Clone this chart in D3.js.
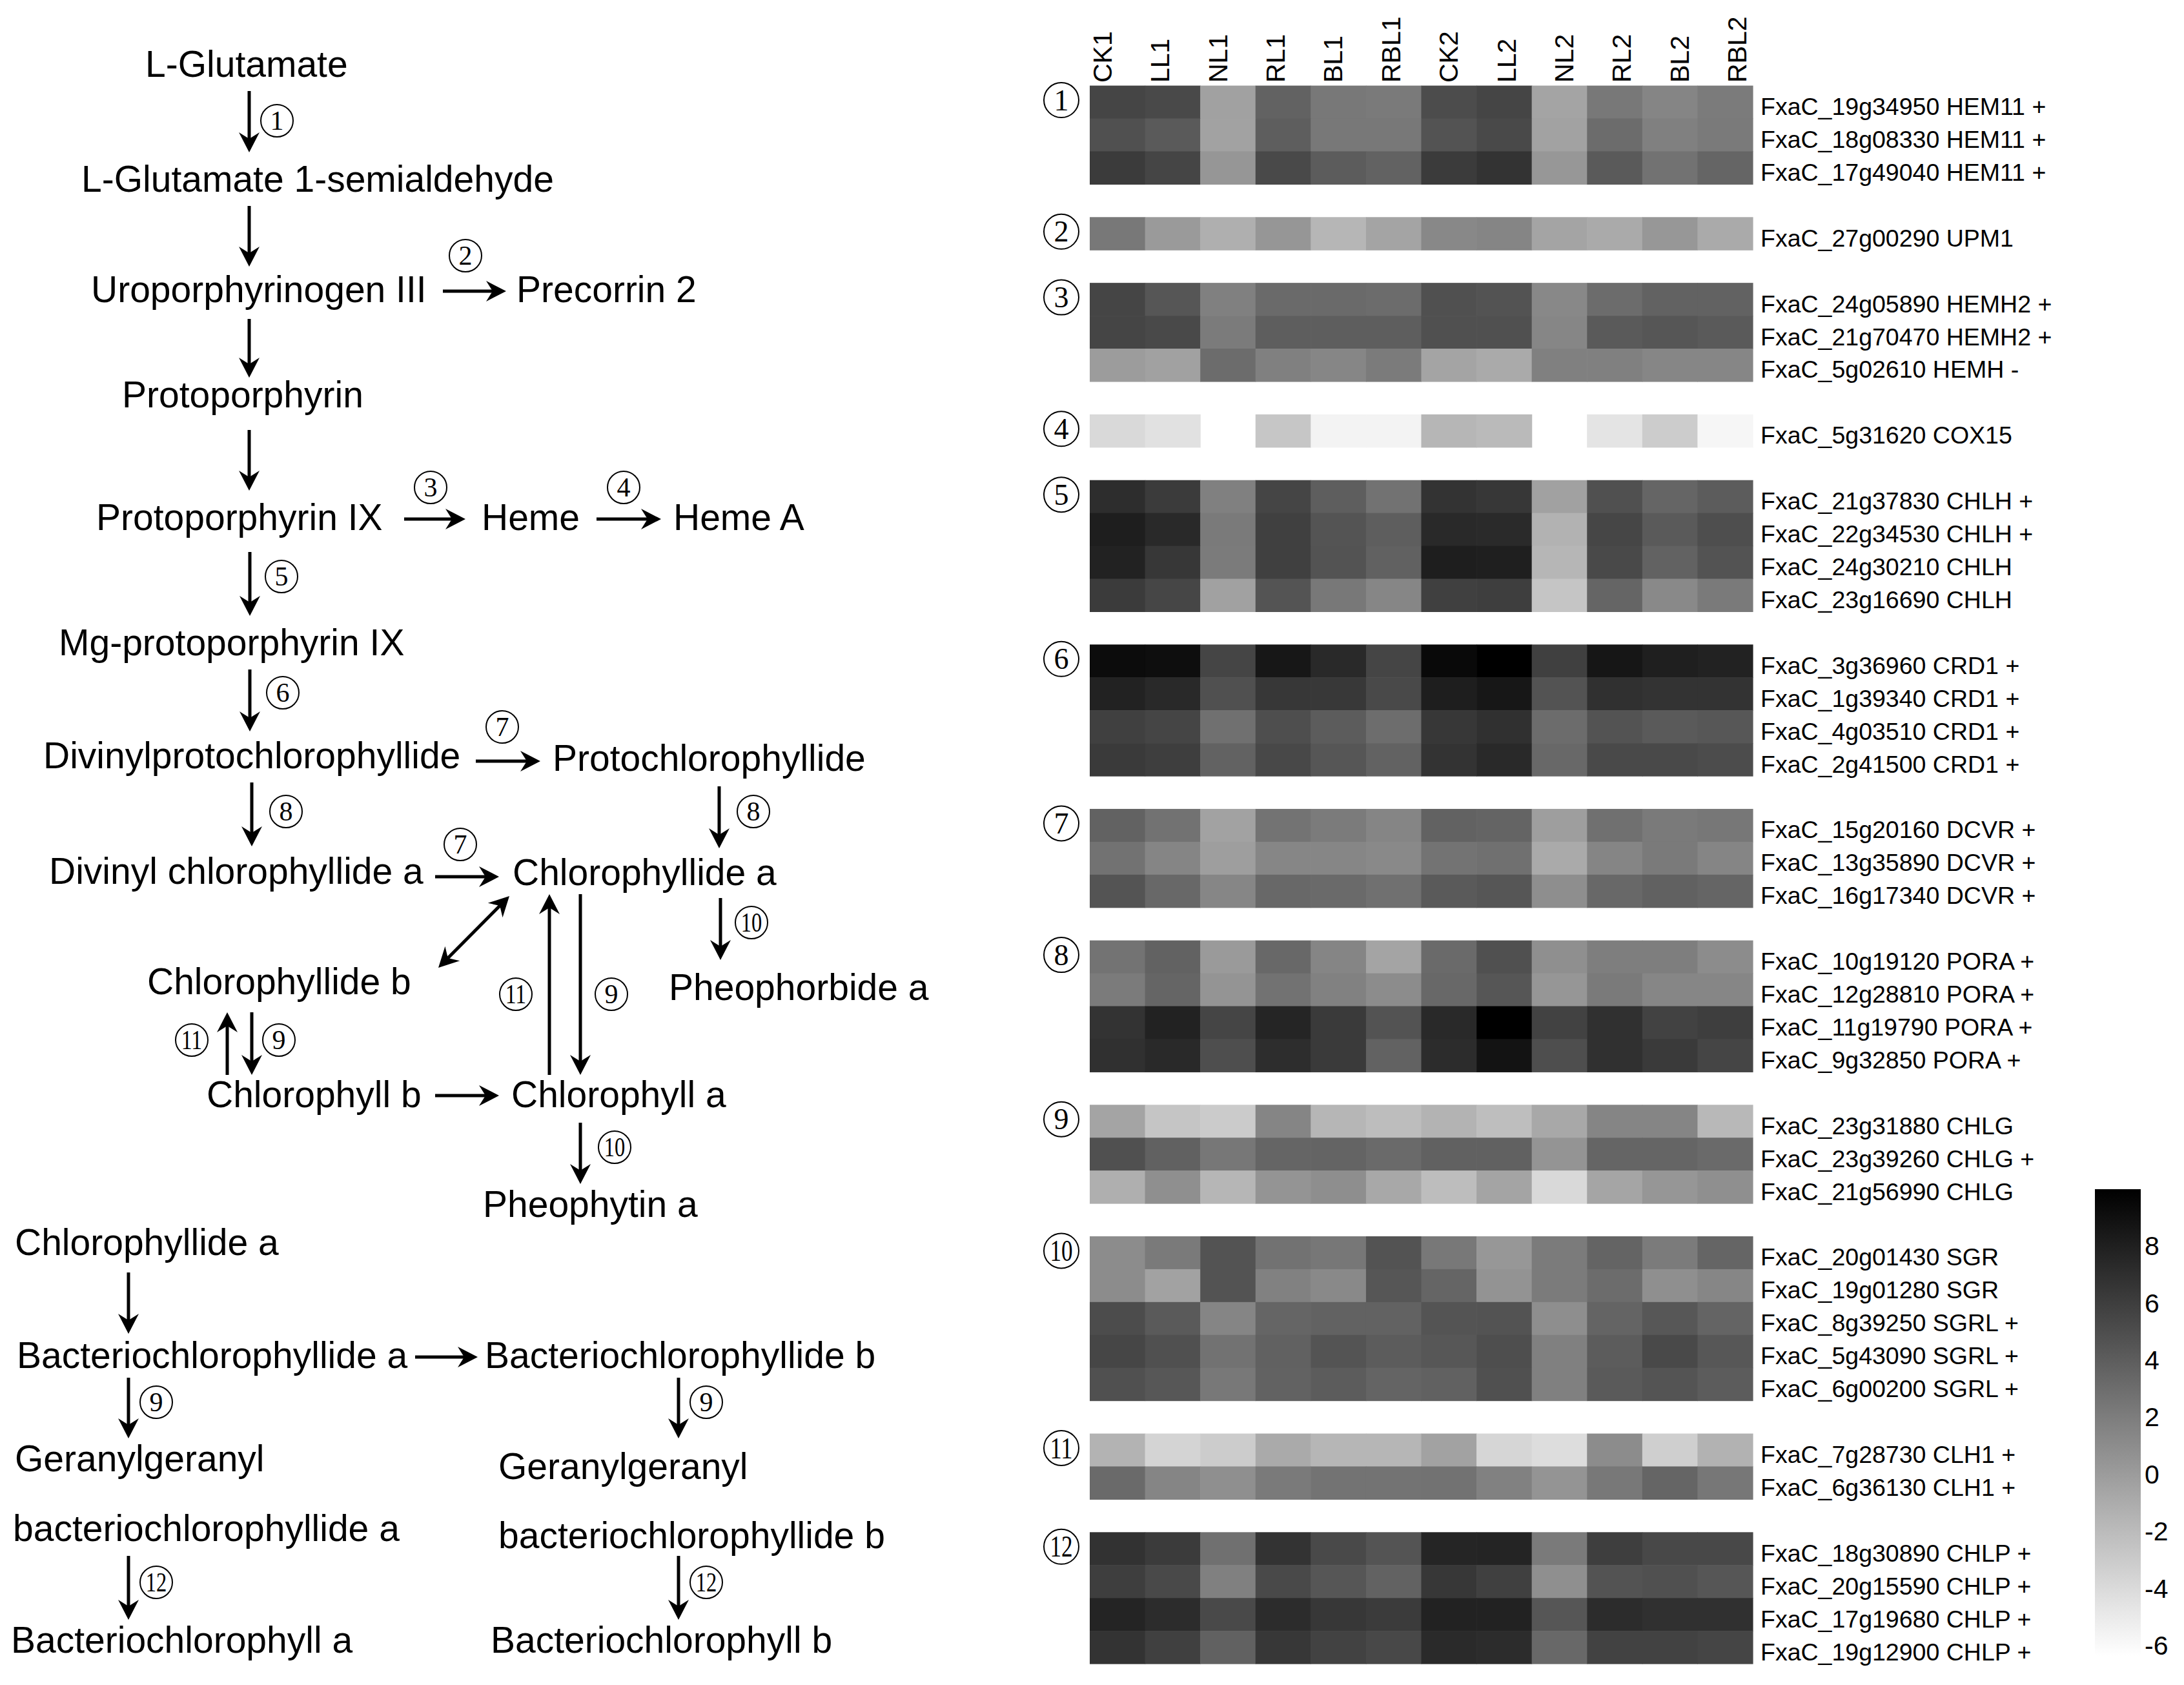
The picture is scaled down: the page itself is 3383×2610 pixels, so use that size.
<!DOCTYPE html>
<meta charset="utf-8">
<script src="https://d3js.org/d3.v7.min.js"></script>
<style>
  body { margin: 0; background: #fff; }
</style>
<div id="chart"></div>
<script>
// ---- heatmap data ----
const columns = ["CK1", "LL1", "NL1", "RL1", "BL1", "RBL1", "CK2", "LL2", "NL2", "RL2", "BL2", "RBL2"];

// gene labels per enzymatic step (1..12)
const stepGenes = [
  ["FxaC_19g34950 HEM11 +", "FxaC_18g08330 HEM11 +", "FxaC_17g49040 HEM11 +"],
  ["FxaC_27g00290 UPM1"],
  ["FxaC_24g05890 HEMH2 +", "FxaC_21g70470 HEMH2 +", "FxaC_5g02610 HEMH -"],
  ["FxaC_5g31620 COX15"],
  ["FxaC_21g37830 CHLH +", "FxaC_22g34530 CHLH +", "FxaC_24g30210 CHLH", "FxaC_23g16690 CHLH"],
  ["FxaC_3g36960 CRD1 +", "FxaC_1g39340 CRD1 +", "FxaC_4g03510 CRD1 +", "FxaC_2g41500 CRD1 +"],
  ["FxaC_15g20160 DCVR +", "FxaC_13g35890 DCVR +", "FxaC_16g17340 DCVR +"],
  ["FxaC_10g19120 PORA +", "FxaC_12g28810 PORA +", "FxaC_11g19790 PORA +", "FxaC_9g32850 PORA +"],
  ["FxaC_23g31880 CHLG", "FxaC_23g39260 CHLG +", "FxaC_21g56990 CHLG"],
  ["FxaC_20g01430 SGR", "FxaC_19g01280 SGR", "FxaC_8g39250 SGRL +", "FxaC_5g43090 SGRL +", "FxaC_6g00200 SGRL +"],
  ["FxaC_7g28730 CLH1 +", "FxaC_6g36130 CLH1 +"],
  ["FxaC_18g30890 CHLP +", "FxaC_20g15590 CHLP +", "FxaC_17g19680 CHLP +", "FxaC_19g12900 CHLP +"]
];

// expression values (null = no value), same order as columns
const stepValues = [
  [[5.6, 5.3, -0.3, 3.7, 2.3, 2.2, 5.1, 5.6, -0.5, 2.3, 1.5, 2.1],
   [4.9, 4.2, -0.4, 4.0, 2.3, 2.3, 4.7, 5.3, -0.4, 3.1, 1.8, 2.2],
   [6.2, 5.6, 0.4, 5.3, 4.1, 3.7, 6.2, 6.7, 0.3, 4.2, 2.7, 3.5]],
  [[2.3, 0.1, -1.2, 0.4, -1.7, -0.5, 1.3, 1.5, -0.5, -0.9, 0.3, -0.9]],
  [[5.6, 4.5, 1.8, 3.2, 3.2, 3.1, 4.9, 4.7, 1.3, 3.1, 3.7, 3.7],
   [5.6, 5.3, 2.1, 4.0, 4.0, 4.0, 4.9, 4.9, 1.4, 4.2, 4.5, 4.2],
   [0.0, -0.3, 3.1, 1.8, 1.4, 2.1, -0.5, -0.9, 1.8, 1.8, 1.4, 1.4]],
  [[-3.9, -4.4, null, -2.7, -5.6, -5.6, -1.7, -1.9, null, -4.6, -3.1, -5.8]],
  [[7.1, 6.2, 1.8, 5.6, 4.0, 2.7, 6.7, 6.5, -0.3, 4.9, 3.5, 4.1],
   [8.1, 7.4, 2.2, 5.9, 4.6, 4.0, 7.4, 7.3, -1.4, 5.5, 4.2, 5.0],
   [7.8, 6.5, 2.1, 5.9, 4.7, 3.8, 8.1, 8.0, -1.7, 5.3, 3.7, 4.7],
   [6.2, 5.5, -0.3, 4.6, 2.3, 1.4, 5.9, 6.0, -2.6, 3.5, 1.2, 2.2]],
  [[9.2, 9.1, 5.6, 8.5, 7.4, 5.6, 9.4, 10.0, 5.9, 8.6, 8.0, 7.8],
   [7.8, 7.4, 4.9, 6.5, 6.4, 5.3, 8.1, 8.5, 4.7, 6.9, 6.7, 6.7],
   [5.9, 5.6, 2.8, 5.0, 4.1, 3.0, 6.5, 6.9, 3.1, 4.7, 4.2, 4.4],
   [6.3, 6.0, 3.7, 5.4, 4.5, 3.7, 6.7, 7.4, 3.3, 5.3, 5.3, 5.1]],
  [[3.7, 2.7, -0.4, 2.6, 2.1, 1.5, 3.7, 3.6, -0.1, 2.8, 2.2, 2.4],
   [2.7, 1.5, -0.1, 1.4, 1.4, 1.2, 2.6, 2.8, -0.9, 1.5, 2.2, 1.5],
   [4.6, 3.3, 1.4, 3.3, 3.2, 2.8, 4.2, 4.5, 0.9, 3.3, 3.8, 3.5]],
  [[2.6, 3.7, 0.1, 3.3, 1.5, -0.5, 3.2, 4.9, 0.8, 1.9, 1.9, 1.0],
   [2.1, 3.5, 0.5, 2.7, 1.7, 1.0, 3.3, 4.5, 0.4, 2.2, 1.4, 1.4],
   [6.7, 7.8, 5.6, 7.6, 6.3, 4.7, 7.4, 10.0, 5.8, 6.9, 5.8, 6.0],
   [6.9, 7.4, 5.0, 7.1, 6.3, 3.7, 7.2, 8.8, 5.0, 6.9, 6.3, 5.6]],
  [[-0.5, -2.6, -3.0, 1.5, -1.7, -2.1, -1.5, -2.2, -0.8, 1.5, 1.5, -1.8],
   [4.9, 3.8, 2.4, 3.5, 3.6, 3.2, 3.8, 3.8, 0.5, 3.5, 3.5, 3.2],
   [-1.2, 0.8, -1.7, 0.5, 0.9, -0.8, -2.1, -0.5, -3.9, -0.6, 0.4, 0.8]],
  [[1.0, 2.2, 4.7, 2.7, 2.4, 4.7, 2.3, 0.3, 2.1, 3.6, 2.1, 3.5],
   [1.0, -0.4, 4.7, 1.7, 1.2, 4.5, 3.5, 0.6, 2.1, 3.1, 0.8, 1.4],
   [5.1, 4.2, 1.5, 3.5, 3.7, 3.7, 4.6, 4.7, 0.9, 3.6, 4.4, 3.6],
   [5.5, 4.9, 2.7, 3.8, 4.6, 4.1, 4.4, 5.0, 1.8, 4.1, 5.3, 4.4],
   [4.9, 4.4, 2.3, 3.7, 4.1, 3.6, 3.8, 4.9, 1.8, 4.2, 4.6, 4.1]],
  [[-1.5, -3.6, -3.1, -0.9, -1.7, -1.7, -0.4, -3.7, -4.2, 1.0, -3.3, -1.4],
   [3.2, 1.5, 0.8, 2.2, 2.6, 2.6, 2.7, 1.7, 0.5, 2.3, 3.5, 2.4]],
  [[6.8, 6.2, 2.8, 6.7, 5.3, 4.6, 7.6, 7.7, 2.2, 6.0, 5.4, 5.4],
   [6.0, 5.3, 1.8, 5.3, 4.5, 3.7, 6.5, 5.9, 0.8, 4.7, 4.9, 4.5],
   [7.7, 7.2, 5.3, 7.2, 6.5, 6.2, 7.8, 7.8, 4.5, 7.2, 6.9, 6.9],
   [6.7, 5.9, 3.8, 6.5, 5.8, 5.4, 7.3, 7.2, 3.3, 5.8, 5.8, 5.6]]
];

const colorDomain = [-6.35, 10];
const colorTicks = [8, 6, 4, 2, 0, -2, -4, -6];

// ---- pathway diagram ----
const compounds = [
  "L-Glutamate", "L-Glutamate 1-semialdehyde", "Uroporphyrinogen III", "Precorrin 2",
  "Protoporphyrin", "Protoporphyrin IX", "Heme", "Heme A", "Mg-protoporphyrin IX",
  "Divinylprotochlorophyllide", "Protochlorophyllide", "Divinyl chlorophyllide a",
  "Chlorophyllide a", "Chlorophyllide b", "Pheophorbide a", "Chlorophyll b",
  "Chlorophyll a", "Pheophytin a", "Chlorophyllide a", "Bacteriochlorophyllide a",
  "Bacteriochlorophyllide b", "Geranylgeranyl", "Geranylgeranyl",
  "bacteriochlorophyllide a", "bacteriochlorophyllide b",
  "Bacteriochlorophyll a", "Bacteriochlorophyll b"
];
// layout of the diagram: left edge and baseline of each compound name
const compoundAt = [
  [225, 119], [126, 297], [141, 468], [800, 468], [189, 631], [149, 821], [746, 821],
  [1043, 821], [91, 1015], [67, 1190], [856, 1194], [76, 1369], [794, 1371],
  [228, 1540], [1036, 1549], [320, 1715], [792, 1715], [748, 1885], [23, 1944],
  [26, 2119], [751, 2119], [23, 2279], [772, 2291], [20, 2387], [772, 2398],
  [17, 2560], [760, 2560]
];
// reaction arrows: step number (0 = none) and layout
const reactionSteps = [1, 0, 2, 0, 0, 3, 4, 5, 6, 7, 8, 8, 7, 0, 10, 11, 9, 11, 9, 0, 10, 0, 0, 9, 9, 12, 12];
const reactionArrows = [
  [386, 141, 386, 236], [386, 319, 386, 413], [686, 451, 784, 451], [386, 494, 386, 585],
  [386, 666, 386, 760], [626, 804, 721, 804], [924, 804, 1024, 804], [387, 855, 387, 954],
  [387, 1037, 387, 1133], [737, 1179, 837, 1179], [390, 1212, 390, 1311],
  [1114, 1218, 1114, 1314], [674, 1358, 773, 1358], [679, 1499, 789, 1388],
  [1116, 1391, 1116, 1487], [851, 1665, 851, 1385], [899, 1385, 899, 1665],
  [352, 1665, 352, 1568], [390, 1568, 390, 1665], [674, 1697, 773, 1697],
  [899, 1739, 899, 1834], [199, 1971, 199, 2066], [643, 2102, 740, 2102],
  [199, 2134, 199, 2228], [1051, 2134, 1051, 2228], [199, 2410, 199, 2509],
  [1051, 2410, 1051, 2509]
];
const reactionLabelAt = [
  [429, 187], null, [721, 396], null, null, [667, 755], [966, 755], [436, 893],
  [438, 1073], [778, 1126], [443, 1257], [1167, 1257], [713, 1308], null,
  [1164, 1429], [799, 1540], [947, 1540], [297, 1611], [432, 1611], null,
  [952, 1777], null, null, [242, 2172], [1094, 2172], [242, 2451], [1094, 2451]
];
const doubleHeaded = [13];

const W = 3383, H = 2610;
const sans = "'Liberation Sans', Arial, sans-serif";
const serif = "'Liberation Serif', 'Times New Roman', serif";

const svg = d3.select("#chart")
  .append("svg")
  .attr("width", W)
  .attr("height", H)
  .style("background", "#fff");

function circled(g, n, cx, cy, r, fs) {
  g.append("circle")
    .attr("cx", cx).attr("cy", cy).attr("r", r)
    .attr("fill", "none").attr("stroke", "#000").attr("stroke-width", 2);
  const t = g.append("text")
    .attr("x", cx).attr("y", cy + fs * 0.34)
    .attr("text-anchor", "middle")
    .attr("font-family", serif)
    .attr("font-size", fs)
    .text(n);
  if (n >= 10) t.attr("textLength", r * 1.3).attr("lengthAdjust", "spacingAndGlyphs");
}

function arrowHead(g, x, y, ux, uy) {
  const len = 31, half = 16, notch = 21;
  const px = -uy, py = ux;
  const pts = [
    [x, y],
    [x - ux * len + px * half, y - uy * len + py * half],
    [x - ux * notch, y - uy * notch],
    [x - ux * len - px * half, y - uy * len - py * half]
  ];
  g.append("path").attr("d", "M" + pts.join("L") + "Z").attr("fill", "#000");
}

function arrow(g, a, both) {
  const [x1, y1, x2, y2] = a;
  const L = Math.hypot(x2 - x1, y2 - y1), ux = (x2 - x1) / L, uy = (y2 - y1) / L;
  const sx = both ? x1 + ux * 15 : x1, sy = both ? y1 + uy * 15 : y1;
  g.append("line")
    .attr("x1", sx).attr("y1", sy)
    .attr("x2", x2 - ux * 15).attr("y2", y2 - uy * 15)
    .attr("stroke", "#000").attr("stroke-width", 5);
  arrowHead(g, x2, y2, ux, uy);
  if (both) arrowHead(g, x1, y1, -ux, -uy);
}

// ---- pathway ----
const path = svg.append("g");
path.selectAll("text.cmp")
  .data(compounds)
  .join("text")
    .attr("class", "cmp")
    .attr("x", (d, i) => compoundAt[i][0])
    .attr("y", (d, i) => compoundAt[i][1])
    .attr("font-family", sans)
    .attr("font-size", 57)
    .attr("fill", "#000")
    .text(d => d);

reactionArrows.forEach((a, i) => {
  arrow(path, a, doubleHeaded.includes(i));
  if (reactionSteps[i]) {
    const [cx, cy] = reactionLabelAt[i];
    circled(path, reactionSteps[i], cx, cy, 25, 42);
  }
});

// ---- heatmap ----
let slot = 0;
const cells = [], rowLabels = [], groupStart = [];
stepValues.forEach((rows, gi) => {
  groupStart.push(slot);
  rows.forEach((vals, ri) => {
    vals.forEach((v, ci) => { if (v !== null) cells.push({ slot, col: columns[ci], v }); });
    rowLabels.push({ slot, label: stepGenes[gi][ri] });
    slot++;
  });
  slot++;
});
const nSlots = slot - 1;

const x = d3.scaleBand().domain(columns).range([1688, 2715]);
const y = d3.scaleBand().domain(d3.range(nSlots)).range([132.6, 2577]);
const color = d3.scaleLinear().domain(colorDomain).range(["#ffffff", "#000000"]).clamp(true);

const hm = svg.append("g");
hm.selectAll("rect.cell")
  .data(cells)
  .join("rect")
    .attr("class", "cell")
    .attr("x", d => x(d.col))
    .attr("y", d => y(d.slot))
    .attr("width", x.bandwidth() + 0.6)
    .attr("height", y.bandwidth() + 0.6)
    .attr("fill", d => color(d.v));

hm.selectAll("text.gene")
  .data(rowLabels)
  .join("text")
    .attr("class", "gene")
    .attr("x", 2727)
    .attr("y", d => y(d.slot) + y.bandwidth() / 2 + 20)
    .attr("font-family", sans)
    .attr("font-size", 37.5)
    .text(d => d.label);

// column labels sit on their own spacing above the cells
const labelX = d3.scalePoint().domain(columns).range([1722, 2705]);
hm.selectAll("text.col")
  .data(columns)
  .join("text")
    .attr("class", "col")
    .attr("transform", d => `translate(${labelX(d)},128) rotate(-90)`)
    .attr("font-family", sans)
    .attr("font-size", 41)
    .text(d => d);

groupStart.forEach((s, i) => {
  circled(hm, i + 1, 1644, y(s) + y.bandwidth() / 2 - 3, 27, 46);
});

// ---- colour bar ----
const cb = d3.scaleLinear().domain(colorDomain).range([2565, 1842]);
const defs = svg.append("defs");
const grad = defs.append("linearGradient")
  .attr("id", "cbar").attr("x1", 0).attr("y1", 1).attr("x2", 0).attr("y2", 0);
d3.range(0, 1.0001, 0.1).forEach(t => {
  const v = colorDomain[0] + t * (colorDomain[1] - colorDomain[0]);
  grad.append("stop").attr("offset", t).attr("stop-color", color(v));
});
svg.append("rect")
  .attr("x", 3245).attr("y", cb(colorDomain[1]))
  .attr("width", 71).attr("height", cb(colorDomain[0]) - cb(colorDomain[1]))
  .attr("fill", "url(#cbar)");

const cbAxis = svg.append("g")
  .attr("transform", "translate(3316,0)")
  .call(d3.axisRight(cb).tickValues(colorTicks).tickSize(0).tickPadding(6).tickFormat(d => String(d)));
cbAxis.select(".domain").remove();
cbAxis.selectAll("text")
  .attr("font-family", sans)
  .attr("font-size", 41)
  .attr("fill", "#000");
</script>
</html>
